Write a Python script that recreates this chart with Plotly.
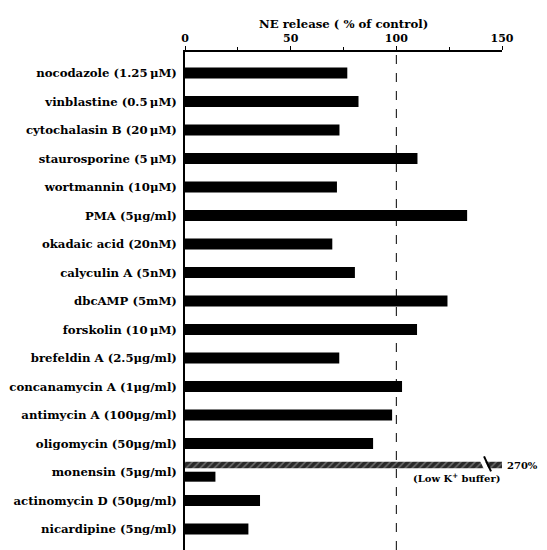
import plotly.graph_objects as go

categories = [
    "nocodazole (1.25\u2009μM)", "vinblastine (0.5\u2009μM)", "cytochalasin B (20\u2009μM)",
    "staurosporine (5\u2009μM)", "wortmannin (10μM)", "PMA (5μg/ml)", "okadaic acid (20nM)",
    "calyculin A (5nM)", "dbcAMP (5mM)", "forskolin (10\u2009μM)", "brefeldin A (2.5μg/ml)",
    "concanamycin A (1μg/ml)", "antimycin A (100μg/ml)", "oligomycin (50μg/ml)",
    "monensin (5μg/ml)", "actinomycin D (50μg/ml)", "nicardipine (5ng/ml)",
]
values = [76.8, 82.1, 73.1, 110.0, 71.9, 133.5, 69.7, 80.4, 124.2, 109.8, 73.0,
          102.7, 98.0, 89.0, 14.4, 35.5, 30.0]
lowk_category = ["monensin (5μg/ml)"]
lowk_value = [270]
lowk_label = "270%"
x_ticks = [0, 50, 100, 150]

FONT = "DejaVu Serif"

widths = [0.38] * len(categories)
offsets = [-0.19] * len(categories)
mi = categories.index("monensin (5μg/ml)")
widths[mi] = 0.35
offsets[mi] = -0.01

fig = go.Figure()
fig.add_trace(go.Bar(
    y=categories, x=values, orientation="h",
    width=widths, offset=offsets,
    marker=dict(color="black", line=dict(width=0)),
    showlegend=False,
))
fig.add_trace(go.Bar(
    y=lowk_category, x=lowk_value, orientation="h",
    width=[0.23], offset=[-0.36],
    marker=dict(color="#2a2a2a", line=dict(width=0),
                pattern=dict(shape="/", fgcolor="#b0b0b0", size=5, solidity=0.3)),
    showlegend=False,
))

# dashed reference line at 100 %
fig.add_shape(type="line", x0=100, x1=100, y0=0, y1=1, xref="x", yref="paper",
              line=dict(color="black", width=1, dash="dash"))

# axis break on the off-scale bar
fig.add_shape(type="path", xref="x", yref="y",
              path=f"M 139.5 {mi-0.40} L 141.8 {mi-0.40} L 143.8 {mi-0.10} L 141.5 {mi-0.10} Z",
              fillcolor="white", line=dict(width=0))
fig.add_shape(type="line", xref="x", yref="y", x0=141.5, x1=144.8, y0=mi-0.55, y1=mi-0.02,
              line=dict(color="black", width=2))

fig.add_annotation(x=150, y=lowk_category[0], xref="x", yref="y", text=f"<b>{lowk_label}</b>",
                   showarrow=False, xanchor="left", xshift=3, yshift=7,
                   font=dict(family=FONT, size=10, color="black"))
fig.add_annotation(x=128.5, y=lowk_category[0], xref="x", yref="y",
                   text="<b>(Low K<sup>+</sup> buffer)</b>",
                   showarrow=False, xanchor="center", yshift=-5,
                   font=dict(family=FONT, size=10, color="black"))

fig.add_annotation(x=0.5, y=1.074, xref="paper", yref="paper",
                   text="<b>NE release ( % of control)</b>", showarrow=False,
                   font=dict(family=FONT, size=11.7, color="black"))

fig.update_layout(
    width=539, height=542,
    margin=dict(l=177, r=45, t=44, b=0),
    paper_bgcolor="white", plot_bgcolor="white",
    barmode="overlay",
    xaxis=dict(side="top", range=[0, 150], tickvals=x_ticks, showgrid=False,
               automargin=False,
               zeroline=False, showline=True, linecolor="black", linewidth=1.5,
               ticks="outside", ticklen=4, tickcolor="black",
               minor=dict(tickvals=[25, 75, 125], ticks="outside", ticklen=3, tickcolor="black"),
               tickfont=dict(family=FONT, size=11, color="black", weight="bold")),
    yaxis=dict(autorange=False, range=[16.737, -0.737], showgrid=False, zeroline=False,
               automargin=False,
               showline=True, linecolor="black", linewidth=1.5, ticks="",
               ticklabelstandoff=4,
               tickfont=dict(family=FONT, size=11.7, color="black", weight="bold")),
)

fig.write_html("out.html")
